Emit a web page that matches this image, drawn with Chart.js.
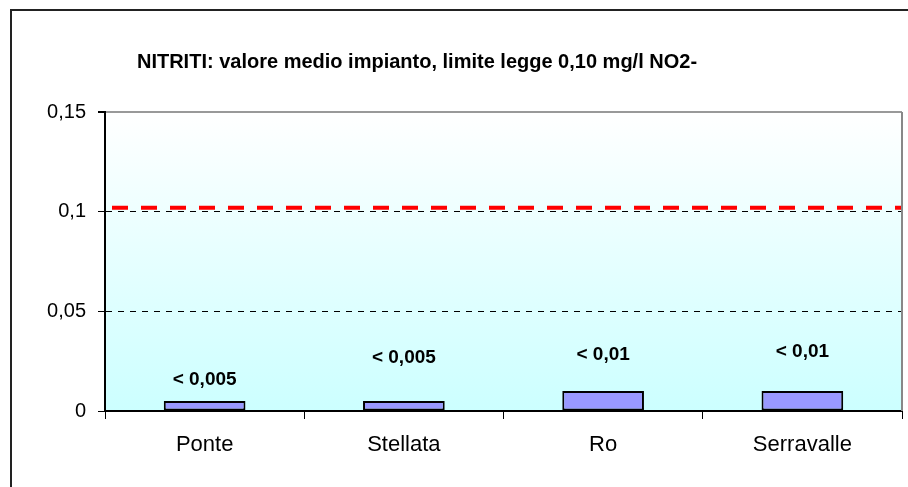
<!DOCTYPE html>
<html>
<head>
<meta charset="utf-8">
<script src="https://cdn.jsdelivr.net/npm/chart.js@4"></script>
<style>
  html, body { margin: 0; padding: 0; background: #fff; }
  #wrap { width: 908px; height: 487px; position: relative; }
</style>
</head>
<body>
<div id="wrap"><canvas id="nitritiChart" width="908" height="487"></canvas></div>
<script>
// dati del grafico
const impianti = ['Ponte', 'Stellata', 'Ro', 'Serravalle'];
const valoriMedi = [0.005, 0.005, 0.01, 0.01];
const etichette = ['< 0,005', '< 0,005', '< 0,01', '< 0,01'];
const yTicks = [0, 0.05, 0.1, 0.15];
const limiteLegge = 0.102;

const FONT = '"Liberation Sans", Arial, sans-serif';

// sfondo sfumato, cornice e titolo
const sfondo = {
    id: 'sfondo',
    beforeDraw(chart) {
        const { ctx, chartArea: a } = chart;
        ctx.save();
        ctx.fillStyle = '#fff';
        ctx.fillRect(0, 0, chart.width, chart.height);
        const g = ctx.createLinearGradient(0, a.top, 0, a.bottom);
        g.addColorStop(0, '#ffffff');
        g.addColorStop(1, '#ccffff');
        ctx.fillStyle = g;
        ctx.fillRect(a.left, a.top, a.right - a.left, a.bottom - a.top);
        // cornice esterna
        ctx.strokeStyle = '#222';
        ctx.lineWidth = 2;
        ctx.strokeRect(11, 10, 1000, 1000);
        // titolo
        ctx.fillStyle = '#000';
        ctx.font = 'bold 20px ' + FONT;
        ctx.textAlign = 'center';
        ctx.textBaseline = 'middle';
        ctx.fillText('NITRITI: valore medio impianto, limite legge 0,10 mg/l NO2-', 417, 62);
        ctx.restore();
    },
    afterDraw(chart) {
        const { ctx, chartArea: a } = chart;
        ctx.save();
        ctx.strokeStyle = '#888';
        ctx.lineWidth = 2;
        ctx.beginPath();
        ctx.moveTo(a.right, a.top);
        ctx.lineTo(a.right, a.bottom);
        ctx.stroke();
        ctx.restore();
    }
};

// linea del limite di legge ed etichette sopra le barre
const limite = {
    id: 'limite',
    afterDatasetsDraw(chart, args, opts) {
        const { ctx, chartArea: a, scales } = chart;
        const y = scales.y.getPixelForValue(limiteLegge);
        ctx.save();
        ctx.strokeStyle = '#ff0000';
        ctx.lineWidth = 4;
        ctx.setLineDash([16, 13]);
        ctx.beginPath();
        ctx.moveTo(a.left + 7, y);
        ctx.lineTo(a.right, y);
        ctx.stroke();
        ctx.setLineDash([]);

        ctx.fillStyle = '#000';
        ctx.font = 'bold 19px ' + FONT;
        ctx.textAlign = 'center';
        ctx.textBaseline = 'middle';
        chart.getDatasetMeta(0).data.forEach((bar, i) => {
            ctx.fillText(etichette[i], bar.x, bar.y - opts.lift[i]);
        });
        ctx.restore();
    }
};

new Chart(document.getElementById('nitritiChart'), {
    type: 'bar',
    data: {
        labels: impianti,
        datasets: [{
            data: valoriMedi,
            backgroundColor: '#9999ff',
            borderColor: '#000',
            borderWidth: 2,
            borderSkipped: false,
            barPercentage: 0.41,
            categoryPercentage: 1
        }]
    },
    options: {
        responsive: false,
        animation: false,
        layout: { padding: { top: 112, right: 6, left: 0, bottom: 0 } },
        plugins: {
            legend: { display: false },
            title: { display: false },
            tooltip: { enabled: false },
            limite: { lift: [21, 43, 36, 39] }
        },
        scales: {
            x: {
                grid: {
                    drawOnChartArea: false,
                    tickLength: 8,
                    tickColor: '#000',
                    offset: true
                },
                border: { color: '#000', width: 2 },
                ticks: {
                    color: '#000',
                    font: { family: FONT, size: 22 },
                    padding: 13
                },
                afterFit(scale) { scale.height = 76; }
            },
            y: {
                min: 0,
                max: 0.15,
                afterBuildTicks(scale) {
                    scale.ticks = yTicks.map(v => ({ value: v }));
                },
                grid: {
                    color: ctx => ctx.tick && ctx.tick.value === 0.15 ? '#999' : '#000',
                    lineWidth: ctx => ctx.tick && ctx.tick.value === 0.15 ? 2 : 1,
                    tickLength: 7,
                    tickColor: '#000',
                    tickBorderDash: []
                },
                border: {
                    color: '#000',
                    width: 2,
                    dash: ctx => (ctx.tick && ctx.tick.value > 0 && ctx.tick.value < 0.15) ? [6, 6] : []
                },
                ticks: {
                    color: '#000',
                    font: { family: FONT, size: 20 },
                    padding: 12,
                    callback: v => String(v).replace('.', ',')
                },
                afterFit(scale) { scale.width = 105; }
            }
        }
    },
    plugins: [sfondo, limite]
});
</script>
</body>
</html>
